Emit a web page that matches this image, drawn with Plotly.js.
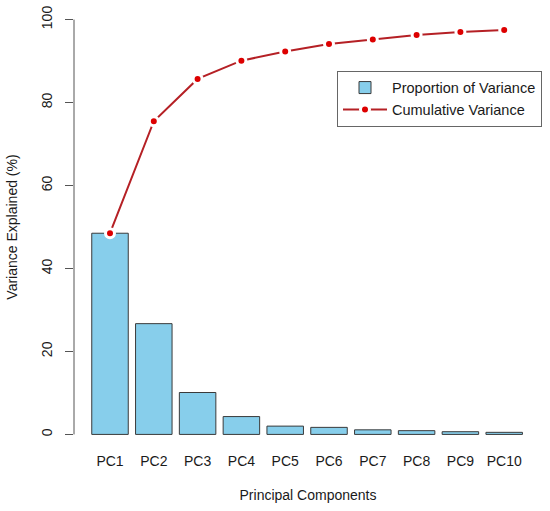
<!DOCTYPE html>
<html>
<head>
<meta charset="utf-8">
<script src="https://cdn.plot.ly/plotly-3.0.1.min.js"></script>
<style>html,body{margin:0;padding:0;background:#fff;}#chart{width:550px;height:511px;}</style>
</head>
<body>
<div id="chart"></div>
<script>
const components = ["PC1","PC2","PC3","PC4","PC5","PC6","PC7","PC8","PC9","PC10"];
const proportionVariance = [48.5, 26.7, 10.1, 4.3, 2.0, 1.7, 1.1, 0.9, 0.65, 0.5];
const cumulativeVariance = [48.5, 75.5, 85.7, 90.1, 92.3, 94.1, 95.2, 96.3, 97.0, 97.5];
const yTickValues = [0, 20, 40, 60, 80, 100];

const FONT = "Liberation Sans, Arial, sans-serif";
const TXT = "#1a1a1a";

const traces = [
  {
    type: "bar",
    name: "Proportion of Variance",
    x: components,
    y: proportionVariance,
    marker: {color: "#87CEEB", line: {color: "#3a3a3a", width: 1}},
    hoverinfo: "skip"
  },
  {
    type: "scatter",
    mode: "lines+markers",
    name: "Cumulative Variance",
    x: components,
    y: cumulativeVariance,
    line: {color: "#B52025", width: 2},
    marker: {color: "#DD0000", size: 9, line: {color: "#ffffff", width: 3}},
    hoverinfo: "skip"
  }
];

const layout = {
  width: 550,
  height: 511,
  margin: {l: 74, r: 8, t: 3, b: 60},
  paper_bgcolor: "#ffffff",
  plot_bgcolor: "#ffffff",
  font: {family: FONT, size: 14, color: TXT},
  bargap: 0.1667,
  showlegend: true,
  legend: {
    x: 1, xanchor: "right",
    y: 0.849, yanchor: "top",
    bordercolor: "#666666",
    borderwidth: 1,
    bgcolor: "#ffffff",
    itemwidth: 44,
    font: {family: FONT, size: 14.5, color: TXT}
  },
  xaxis: {
    type: "category",
    range: [-0.822, 9.863],
    showline: false,
    showgrid: false,
    zeroline: false,
    ticks: "",
    tickfont: {family: FONT, size: 14, color: TXT},
    title: {text: "Principal Components", font: {family: FONT, size: 14, color: TXT}, standoff: 22}
  },
  yaxis: {
    range: [-4, 104],
    showline: false,
    showgrid: false,
    zeroline: false,
    tickmode: "array",
    tickvals: yTickValues,
    ticktext: yTickValues.map(String),
    ticks: "outside",
    ticklen: 8,
    tickwidth: 1,
    tickcolor: "#555555",
    tickangle: -90,
    ticklabelstandoff: 7,
    tickfont: {family: FONT, size: 14, color: TXT},
    title: {text: "Variance Explained (%)", font: {family: FONT, size: 14, color: TXT}, standoff: 18}
  },
  shapes: [
    {type: "line", xref: "paper", yref: "y", x0: 0, x1: 0, y0: 0, y1: 100,
     line: {color: "#555555", width: 1}}
  ]
};

Plotly.newPlot("chart", traces, layout, {displayModeBar: false, staticPlot: true});
</script>
</body>
</html>
